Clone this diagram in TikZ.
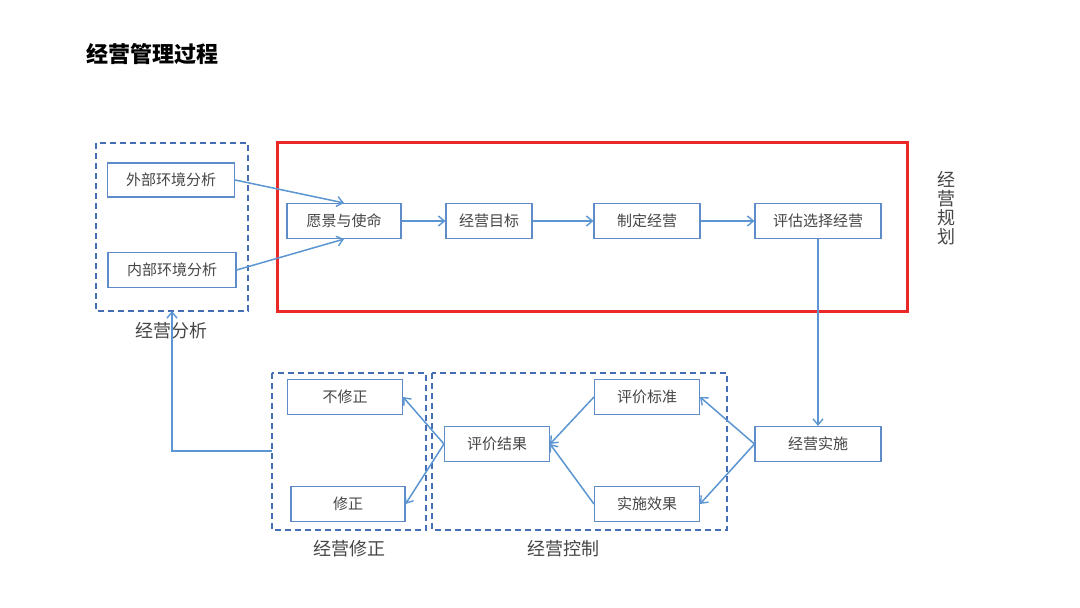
\documentclass[tikz,border=0pt]{standalone}
\usepackage{fontspec}
\setmainfont{Noto Sans CJK SC}
\newfontfamily\cjkb{Noto Sans CJK SC}
\usetikzlibrary{arrows.meta}
\definecolor{boxblue}{RGB}{95,140,200}
\definecolor{arrblue}{RGB}{92,150,210}
\definecolor{dashblue}{RGB}{70,110,180}
\definecolor{txtgray}{RGB}{70,70,70}
\definecolor{redbox}{RGB}{235,40,40}
\tikzset{
  procbox/.style={draw=boxblue, line width=1.1pt, fill=white, text=txtgray, font=\fontsize{15}{18}\selectfont, inner sep=0pt, anchor=center},
  conn/.style={draw=arrblue, line width=1.5pt, -{Straight Barb[length=6pt,width=10pt,line width=1.4pt]}},
  plain/.style={draw=arrblue, line width=1.5pt},
  grp/.style={draw=dashblue, line width=1.5pt, dash pattern=on 6pt off 4pt},
  lbl/.style={text=txtgray, font=\fontsize{18}{20}\selectfont, inner sep=0pt},
}
\begin{document}
\begin{tikzpicture}[x=1pt,y=-1pt]
\useasboundingbox (0,0) rectangle (1080,608);
\fill[white] (0,0) rectangle (1080,608);

\node[anchor=west, text=black, font=\fontsize{22}{24}\selectfont\bfseries, inner sep=0pt] (title) at (86,54) {经营管理过程};

% groups
\draw[grp] (96,143) rectangle (248,311);
\coordinate (analysisbot) at (172,311);
\draw[draw=redbox, line width=3pt] (277,142) rectangle (907,311);
\draw[grp] (272,373) rectangle (426,530);
\coordinate (corrleft) at (272,451);
\draw[grp] (432,373) rectangle (727,530);

% labels
\node[lbl] (lanalysis) at (171,331) {经营分析};
\node[lbl] (lcorr) at (349,549) {经营修正};
\node[lbl] (lctrl) at (563,549) {经营控制};
\node[lbl, align=center, font=\fontsize{18}{19}\selectfont] (lplan) at (946,208) {经\\营\\规\\划};

% nodes
\node[procbox, minimum width=127pt, minimum height=34pt] (ext) at (171,180) {外部环境分析};
\node[procbox, minimum width=128pt, minimum height=35pt] (int) at (172,270) {内部环境分析};
\node[procbox, minimum width=114pt, minimum height=35pt] (vision) at (344,221) {愿景与使命};
\node[procbox, minimum width=86pt, minimum height=35pt] (goal) at (489,221) {经营目标};
\node[procbox, minimum width=106pt, minimum height=35pt] (make) at (647,221) {制定经营};
\node[procbox, minimum width=126pt, minimum height=35pt] (eval) at (818,221) {评估选择经营};
\node[procbox, minimum width=126pt, minimum height=35pt] (impl) at (818,444) {经营实施};
\node[procbox, minimum width=105pt, minimum height=35pt] (std) at (647,397) {评价标准};
\node[procbox, minimum width=105pt, minimum height=35pt] (eff) at (647,504) {实施效果};
\node[procbox, minimum width=105pt, minimum height=35pt] (res) at (497,444) {评价结果};
\node[procbox, minimum width=115pt, minimum height=35pt] (nocorr) at (345,397) {不修正};
\node[procbox, minimum width=114pt, minimum height=35pt] (corr) at (348,504) {修正};

% connectors
\draw[conn] (ext.east) -- (vision.north);
\draw[conn] (int.east) -- (vision.south);
\draw[conn] (vision) -- (goal);
\draw[conn] (goal) -- (make);
\draw[conn] (make) -- (eval);
\draw[conn] (eval.south) -- (impl.north);
\draw[conn] (impl.west) -- (std.east);
\draw[conn] (impl.west) -- (eff.east);
\draw[conn] (std.west) -- (res.east);
\draw[conn] (eff.west) -- (res.east);
\draw[conn] (res.west) -- (nocorr.east);
\draw[conn] (res.west) -- (corr.east);
\draw[conn] (corrleft) -| (analysisbot);
\end{tikzpicture}
\end{document}
